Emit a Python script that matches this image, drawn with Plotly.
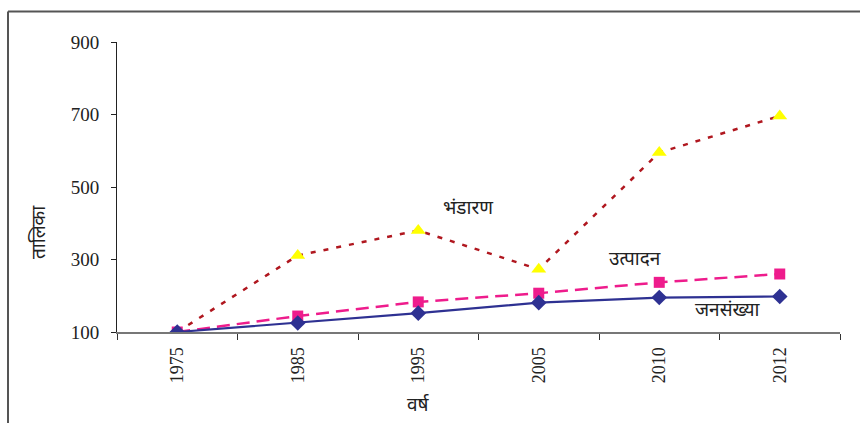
import plotly.graph_objects as go

# Years (categories) and index values for each series
years = ["1975", "1985", "1995", "2005", "2010", "2012"]
population = [100, 125, 152, 181, 195, 198]       # जनसंख्या
production = [100, 144, 183, 207, 237, 260]       # उत्पादन
storage = [100, 311, 380, 273, 595, 696]          # भंडारण
y_ticks = [100, 300, 500, 700, 900]

SERIF = "Liberation Serif, Times New Roman, serif"
DEVA = "Noto Sans Devanagari, Lohit Devanagari, Mangal, sans-serif"
TXT = "#222"

fig = go.Figure()

fig.add_trace(go.Scatter(
    x=years, y=storage, mode="lines+markers", name="भंडारण",
    line=dict(color="#B0171F", width=2.5, dash="5px,8px"),
    marker=dict(symbol="triangle-up", size=13, color="#FFFF00"),
))
fig.add_trace(go.Scatter(
    x=years, y=production, mode="lines+markers", name="उत्पादन",
    line=dict(color="#EE1C8C", width=2.5, dash="13px,7px"),
    marker=dict(symbol="square", size=11, color="#EE1C8C"),
))
fig.add_trace(go.Scatter(
    x=years, y=population, mode="lines+markers", name="जनसंख्या",
    line=dict(color="#2E3192", width=2.2),
    marker=dict(symbol="diamond", size=12, color="#2E3192"),
))

# Series names placed next to their lines
for text, xpos, ypos in [("भंडारण", 2.41, 438), ("उत्पादन", 3.8, 298),
                         ("जनसंख्या", 4.57, 157)]:
    fig.add_annotation(x=xpos, y=ypos, xref="x", yref="y", text=text,
                       showarrow=False, font=dict(family=DEVA, size=19, color=TXT))

# Axis titles
fig.add_annotation(x=(418 - 117) / 723, y=-(406 - 332) / 290, xref="paper", yref="paper",
                   xanchor="center", yanchor="middle",
                   text="वर्ष", showarrow=False,
                   font=dict(family=DEVA, size=19, color=TXT))
fig.add_annotation(x=(40 - 117) / 723, y=(332 - 232) / 290, xref="paper", yref="paper",
                   xanchor="center", yanchor="middle",
                   text="तालिका", showarrow=False, textangle=-90,
                   font=dict(family=DEVA, size=19, color=TXT))

# Outer frame (top and left edges)
fx, fy = (8 - 117) / 723, 1 + (42 - 11.5) / 290
fig.add_shape(type="line", xref="paper", yref="paper",
              x0=fx, x1=1.2, y0=fy, y1=fy, line=dict(color="#555", width=2))
fig.add_shape(type="line", xref="paper", yref="paper",
              x0=fx, x1=fx, y0=fy, y1=-0.5, line=dict(color="#555", width=2))

fig.update_layout(
    width=860, height=423,
    margin=dict(l=117, r=20, t=42, b=91),
    paper_bgcolor="white", plot_bgcolor="white",
    showlegend=False,
    font=dict(family=SERIF, color=TXT),
    xaxis=dict(
        type="category", range=[-0.5, 5.5],
        tickson="boundaries", ticks="outside", ticklen=6, tickcolor="#333",
        showline=True, linecolor="#777", linewidth=2,
        showgrid=False, zeroline=False,
        tickangle=-90, ticklabelstandoff=6,
        tickfont=dict(family=SERIF, size=18, color=TXT),
    ),
    yaxis=dict(
        range=[100, 900], tickvals=y_ticks,
        ticks="outside", ticklen=5, tickcolor=TXT,
        showline=True, linecolor=TXT, linewidth=1,
        showgrid=False, zeroline=False, ticklabelstandoff=8,
        tickfont=dict(family=SERIF, size=19, color=TXT),
    ),
)

fig.write_html("out.html")
